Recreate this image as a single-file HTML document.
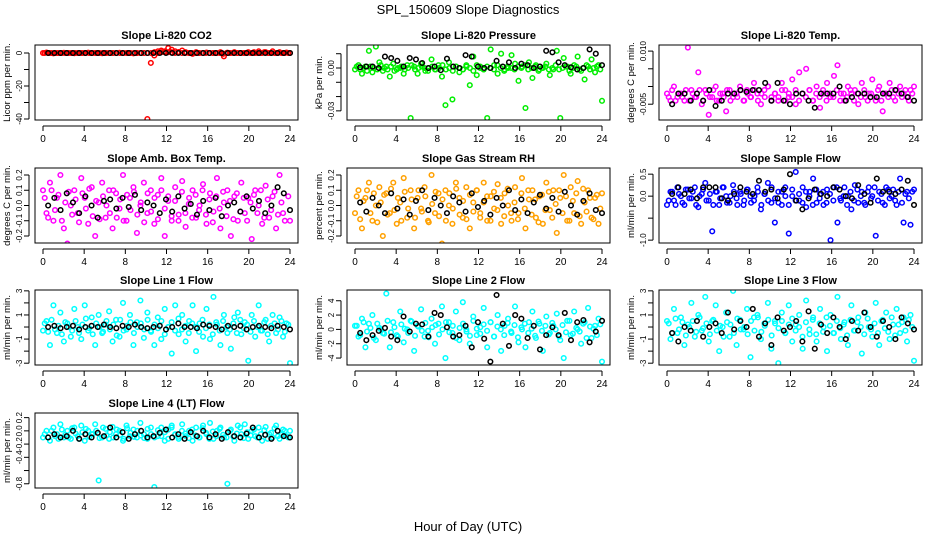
<!DOCTYPE html>
<html><head><meta charset="utf-8">
<style>
html,body{margin:0;padding:0;background:#fff;}
svg{display:block;font-family:"Liberation Sans",sans-serif;}
</style></head>
<body>
<svg id="chart" width="936" height="540" viewBox="0 0 936 540">
<text x="468" y="14" text-anchor="middle" font-size="13">SPL_150609  Slope Diagnostics</text>
<text x="468" y="531" text-anchor="middle" font-size="13">Hour of Day (UTC)</text>
</svg>
<script>
const xTicks=[0,4,8,12,16,20,24];
const titles=["Slope Li-820 CO2","Slope Li-820 Pressure","Slope Li-820 Temp.","Slope Amb. Box Temp.","Slope Gas Stream RH","Slope Sample Flow","Slope Line 1 Flow","Slope Line 2 Flow","Slope Line 3 Flow","Slope Line 4 (LT) Flow"];
const yLabels=["Licor ppm per min.","kPa per min.","degrees C per min.","degrees C per min.","percent per min.","ml/min per min.","ml/min per min.","ml/min per min.","ml/min per min.","ml/min per min."];
const colors=["#ff0000","#00ee00","#ff00ff","#ff00ff","#ffa000","#0000ff","#00ffff","#00ffff","#00ffff","#00ffff"];
const yTop=[4.85,0.0161,0.01172,0.246,0.246,0.64,3.07,5.5,3.07,0.27];
const yBot=[-40.6,-0.0364,-0.00946,-0.246,-0.246,-1.065,-3.15,-4.97,-3.15,-0.864];
const yTickVals=[[0,-10,-20,-30,-40],[0.01,0,-0.01,-0.02,-0.03],[0.01,0.005,0,-0.005],[0.2,0.1,0,-0.1,-0.2],[0.2,0.1,0,-0.1,-0.2],[0.5,0,-0.5,-1.0],[3,2,1,0,-1,-2,-3],[4,2,0,-2,-4],[3,2,1,0,-1,-2,-3],[0.2,0,-0.2,-0.4,-0.6,-0.8]];
const yTickLabels=[["0","","-20","","-40"],["","0.00","","","-0.03"],["0.010","","","-0.005"],["0.2","0.1","0.0","-0.1","-0.2"],["0.2","0.1","0.0","-0.1","-0.2"],["0.5","0.0","","-1.0"],["3","","1","","-1","","-3"],["4","2","0","-2","-4"],["3","","1","","-1","","-3"],["0.2","0.0","-0.2","-0.4","","-0.8"]];

const co2Vals=[0,0.3,0,-0.2,0,0,0.1,0,0,-0.1,0,0,0,0.2,0,0,0,-0.1,0,0,0,0,0.1,0,0,0,-0.2,0,0,0,-40,-6,-1.5,0,1.5,0.5,3,2,1,0.5,1.5,0.5,0,-0.5,0.5,0,0,0.3,0,0,0,0.5,-2,0.2,0,0.5,0,0,0,0.5,0,0,1,0,0.5,0,1,0,0.5,0,0.3,0];
const co2Band=[0,0,0,0,0,0,0,0,0,0,0,0,0,0,0,0,0,0,0,0,0,0,0,0,0,0,0,0,0,0,0,0,0.5,1,0.5,1,0.5,0.5,0,0.5,0,0,0,0,0,0,0,0,0,0,0,0,-0.5,0,0,0,0,0,0,0,0,0.5,0,0,0.5,0,0,0,0,0,0,0];
const co2Black=[0,0,0,0,0,0,0,0,0,0,0,0,0,0,0,0,0,0,0,0,0,0,0,0,0,0,0,0,0,0,0,0,0,0,0,0,0,0,0,0];
const pressVals=[-0.001,0.002,-0.004,0.001,0.012,-0.003,0.015,0.004,-0.002,0.001,-0.006,0.003,-0.001,0.000,-0.004,0.002,-0.035,0.001,-0.004,0.003,0.000,-0.002,0.006,-0.001,0.002,-0.006,-0.026,0.004,-0.022,0.001,-0.003,-0.001,0.002,-0.012,0.008,-0.005,0.001,-0.001,-0.035,0.013,0.002,-0.004,0.010,-0.001,0.000,0.009,0.003,-0.009,0.001,-0.028,0.004,-0.007,0.002,-0.001,0.000,0.003,-0.005,-0.001,0.012,-0.035,0.007,0.001,-0.004,0.002,0.008,-0.002,-0.008,0.001,0.006,-0.003,0.002,-0.023];
const pressBand=[0.001,-0.001,0,-0.002,0.001,0,-0.001,0.002,0,-0.001,0.001,-0.002,0,0.001,-0.001,0,0.002,-0.001,0,0.001,-0.002,0,0.001,-0.001,0,0.002,-0.001,0,-0.002,0.001,0,-0.001,0.001,0,-0.002,0.002,0,-0.001,0.001,0,-0.001,0.002,0,-0.002,0.001,0,-0.001,0.001,0,0.002,-0.001,0,0.001,-0.002,0,0.001,-0.001,0,0.002,-0.001,0,0.001,-0.002,0,0.001,-0.001,0,0.002,-0.001,0,0.001,-0.001];
const pressBlack=[0.0005,0.001,0.001,0.0,0.008,0.007,0.005,0.001,0.007,0.006,0.0035,0.0,0.001,-0.0015,0.0065,0.001,0.0,0.009,0.008,0.001,0.0,0.0,0.005,0.001,0.004,0.0,0.003,0.002,0.0,0.001,0.012,0.011,0.004,0.002,0.0005,-0.001,0.0,0.013,0.010,0.002];
const tempVals=[-0.002,-0.004,0.000,-0.003,-0.002,-0.004,0.011,-0.001,-0.003,0.004,-0.005,-0.001,-0.008,-0.003,0.000,-0.004,-0.002,-0.007,-0.001,-0.003,-0.002,0.000,-0.004,-0.001,-0.003,0.001,-0.002,-0.005,-0.001,0.000,-0.003,-0.002,-0.004,0.001,-0.001,-0.003,0.002,-0.005,0.004,-0.002,0.005,-0.001,-0.004,0.000,-0.006,-0.002,0.001,-0.003,0.003,0.006,-0.002,-0.004,0.000,-0.002,-0.001,-0.005,0.001,-0.003,-0.002,0.002,-0.004,0.000,-0.007,-0.002,0.001,-0.003,-0.001,0.000,-0.002,-0.003,-0.001,0.000];
const tempBand=[-0.003,-0.001,-0.004,-0.002,-0.003,-0.001,-0.004,-0.002,-0.003,-0.001,-0.004,-0.002,-0.003,-0.001,-0.004,-0.002,-0.003,-0.001,-0.004,-0.002,-0.003,-0.001,-0.004,-0.002,-0.003,-0.001,-0.004,-0.002,-0.003,0.000,-0.004,-0.002,-0.003,-0.001,-0.004,-0.002,-0.003,-0.001,-0.004,-0.002,-0.003,-0.001,-0.004,-0.002,-0.003,-0.001,-0.004,-0.002,-0.003,-0.001,-0.004,-0.002,-0.003,-0.001,-0.004,-0.002,-0.003,-0.001,-0.004,-0.002,-0.003,-0.001,-0.004,-0.002,-0.003,-0.001,-0.004,-0.002,-0.003,-0.001,-0.004,-0.002];
const tempBlack=[-0.005,-0.002,-0.002,-0.004,-0.002,-0.004,-0.001,-0.0055,-0.004,-0.002,-0.002,-0.001,-0.0015,-0.001,-0.001,0.001,-0.004,0.001,-0.004,-0.005,-0.002,-0.002,-0.004,-0.006,-0.002,-0.002,-0.002,0.000,-0.004,-0.003,-0.002,-0.002,-0.003,-0.003,-0.002,-0.002,-0.001,-0.002,-0.003,-0.004];
const ambVals=[0.1,-0.05,0.15,-0.1,0.05,0.2,-0.15,-0.25,0.0,0.1,-0.05,0.18,0.05,-0.12,0.12,-0.2,0.02,0.15,-0.08,0.1,-0.15,0.08,-0.02,0.2,-0.1,0.05,0.12,-0.18,0.0,0.15,-0.05,0.1,-0.12,0.07,0.18,-0.2,0.03,-0.1,0.12,-0.06,0.16,-0.14,0.05,0.1,-0.08,0.0,0.14,-0.12,0.08,-0.04,0.18,-0.15,0.02,0.1,-0.2,0.06,-0.1,0.15,-0.05,0.05,-0.22,0.1,0.0,-0.12,0.13,-0.08,0.06,-0.15,0.2,-0.05,0.3,-0.1];
const ambBand=[0.05,-0.08,0.1,-0.03,0.07,-0.1,0.02,0.09,-0.06,0.04,-0.11,0.08,-0.02,0.11,-0.07,0.03,-0.09,0.06,0.0,-0.05,0.1,-0.08,0.04,-0.1,0.07,-0.03,0.09,-0.06,0.02,-0.11,0.08,-0.04,0.05,-0.09,0.1,-0.02,0.06,-0.07,0.03,-0.1,0.09,-0.05,0.01,-0.08,0.07,-0.03,0.1,-0.06,0.04,-0.11,0.06,-0.02,0.09,-0.07,0.03,-0.09,0.08,-0.04,0.05,-0.1,0.02,0.07,-0.05,0.1,-0.08,0.04,-0.03,0.09,-0.06,0.02,-0.1,0.06];
const ambBlack=[0.0,0.05,-0.03,0.08,0.02,-0.05,0.06,0.0,-0.08,0.03,0.04,-0.02,0.05,-0.01,0.07,-0.03,0.02,0.0,-0.05,0.04,-0.04,0.06,-0.02,0.01,-0.06,0.03,-0.03,0.05,-0.07,0.0,0.02,-0.04,0.06,-0.02,0.03,-0.05,0.0,0.12,0.08,-0.03];
const rhVals=[-0.05,0.1,-0.15,0.05,0.15,-0.1,0.0,0.12,-0.2,0.08,-0.05,0.15,-0.12,0.02,0.18,-0.08,0.1,-0.15,0.05,-0.02,0.12,-0.1,0.2,-0.05,0.08,-0.25,0.1,0.0,-0.12,0.15,0.05,-0.08,0.12,-0.15,0.02,0.1,-0.05,0.15,-0.1,0.06,-0.02,0.14,-0.12,0.08,0.0,-0.1,0.12,-0.05,0.18,-0.15,0.04,0.1,-0.08,0.06,-0.12,0.15,-0.03,0.1,-0.18,0.05,0.2,-0.1,0.12,-0.05,0.16,-0.12,0.02,0.1,-0.08,0.05,-0.12,0.08];
const rhBand=[0.06,-0.09,0.03,0.1,-0.05,0.08,-0.11,0.02,0.07,-0.06,0.11,-0.03,0.05,-0.1,0.09,-0.02,0.04,-0.08,0.1,-0.04,0.06,-0.11,0.01,0.09,-0.07,0.04,-0.1,0.08,-0.02,0.11,-0.06,0.03,-0.09,0.07,-0.04,0.1,-0.08,0.02,0.06,-0.1,0.09,-0.03,0.05,-0.07,0.11,-0.05,0.02,-0.09,0.08,-0.02,0.1,-0.06,0.04,-0.11,0.07,-0.03,0.09,-0.08,0.01,0.1,-0.05,0.06,-0.1,0.03,0.08,-0.07,0.11,-0.04,0.05,-0.09,0.07,-0.02];
const rhBlack=[0.02,-0.04,0.05,0.0,-0.05,0.08,-0.02,0.04,-0.06,0.03,0.1,-0.03,0.05,0.0,-0.05,0.06,0.02,-0.04,0.08,-0.01,0.03,-0.06,0.05,0.0,0.1,-0.03,0.04,-0.05,0.02,0.07,-0.02,0.05,-0.04,0.09,0.0,-0.06,0.03,0.08,-0.03,-0.05];
const sampleVals=[-0.2,0.1,-0.1,0.2,0.0,-0.2,0.15,-0.05,0.2,-0.25,0.05,0.3,-0.1,-0.8,0.1,-0.2,0.2,0.0,-0.15,0.25,-0.05,0.1,-0.2,0.15,0.0,-0.1,0.2,-0.3,0.05,0.3,-0.15,-0.6,0.1,-0.2,0.2,-0.85,0.0,0.55,-0.1,0.2,-0.25,0.1,0.4,-0.15,0.05,-0.2,0.15,-1.0,0.2,-0.6,-0.1,0.2,0.0,-0.3,0.25,-0.15,0.1,-0.2,0.2,0.0,-0.9,0.1,-0.15,0.2,-0.05,0.15,-0.2,0.4,-0.6,0.1,-0.65,0.15];
const sampleBand=[-0.1,0.1,-0.2,0.05,-0.15,0.15,-0.05,0.1,-0.2,0.0,0.15,-0.1,0.05,-0.2,0.1,-0.05,0.2,-0.15,0.0,0.1,-0.2,0.05,-0.1,0.15,-0.15,0.0,0.1,-0.2,0.05,-0.1,0.2,-0.05,-0.15,0.1,0.0,-0.2,0.15,-0.1,0.05,-0.15,0.1,0.0,-0.2,0.15,-0.05,0.1,-0.15,0.05,-0.1,0.2,-0.05,0.0,-0.2,0.1,-0.1,0.15,0.0,-0.15,0.1,-0.05,0.2,-0.1,0.05,-0.2,0.15,0.0,-0.1,0.1,-0.15,0.05,-0.05,0.1];
const sampleBlack=[0.05,0.2,0.05,0.15,-0.05,0.2,0.2,0.2,-0.05,-0.1,0.05,0.2,0.1,0.05,0.35,0.1,0.15,-0.05,0.15,0.5,-0.1,-0.3,-0.05,0.15,0.05,0.0,0.2,0.15,0.0,-0.05,0.25,0.05,-0.15,0.4,0.1,0.1,0.05,0.15,0.35,-0.2];
const line1Vals=[-0.3,0.5,-1.5,1.8,-0.5,1.2,-1.2,0.3,-0.8,1.5,0.0,-1.0,1.8,-0.3,0.8,-1.5,1.0,-0.5,0.2,1.3,-1.2,0.6,-0.8,2.0,-0.2,1.0,-1.5,0.4,2.2,-0.9,1.2,-0.3,-1.5,0.8,-1.0,1.5,0.0,-2.2,1.8,-0.6,1.0,-1.2,0.5,1.8,-2.0,0.3,-0.8,1.5,-1.0,2.5,0.2,-1.5,1.0,-0.5,-1.8,0.8,1.2,-0.6,0.4,-2.8,1.0,-0.8,1.8,-0.3,0.6,-1.2,1.0,-0.5,0.8,-0.8,0.3,-3.0];
const line1Band=[0.3,-0.4,0.6,-0.2,0.1,-0.6,0.4,0.0,-0.3,0.5,-0.5,0.2,0.7,-0.1,-0.6,0.3,0.0,-0.4,0.5,-0.2,0.2,-0.7,0.6,-0.3,0.1,0.4,-0.5,0.0,0.3,-0.2,0.6,-0.4,0.2,-0.1,0.5,-0.6,0.0,0.4,-0.3,0.7,-0.2,0.1,-0.5,0.3,0.0,-0.4,0.6,-0.1,0.2,-0.6,0.4,-0.3,0.5,0.0,-0.2,0.3,-0.5,0.6,-0.1,0.2,-0.4,0.5,0.0,-0.3,0.4,-0.6,0.1,0.3,-0.2,0.5,-0.4,0.2];
const line1Black=[0.0,0.1,-0.1,0.0,0.1,-0.2,0.0,0.1,0.0,0.2,0.0,-0.1,0.1,0.0,0.2,0.0,-0.1,0.0,0.1,-0.2,0.0,0.3,0.0,0.0,-0.1,0.2,0.1,0.0,-0.2,0.1,0.0,0.1,-0.2,0.0,0.1,0.0,-0.1,0.1,0.0,-0.2];
const line2Vals=[0.5,-1,1.5,-2.5,0.8,2.0,-1.5,0.2,-0.5,5.0,-2.5,1.0,-0.8,2.5,-1.8,0.0,1.2,-3.0,0.5,2.8,-1.0,-0.2,1.5,-2.0,0.8,3.2,-4.0,1.0,-0.5,2.5,-1.5,3.8,0.0,-2.0,1.8,-0.8,0.3,3.0,-2.5,1.0,-1.0,2.0,-3.0,0.5,1.5,-0.5,3.2,-1.8,0.0,-2.5,1.0,2.5,-1.2,0.8,-3.0,1.8,-0.5,0.5,2.2,-1.5,-4.0,1.2,-0.8,2.5,0.0,-2.0,1.0,3.0,-1.2,0.5,1.5,-4.5];
const line2Band=[0.5,-0.8,1.0,-0.3,0.2,-1.2,0.8,0.0,-0.6,1.2,-0.4,0.3,-1.0,0.7,0.1,-0.5,1.1,-0.9,0.4,-0.2,0.9,-1.1,0.3,0.6,-0.7,0.0,1.0,-0.4,0.5,-1.2,0.2,0.8,-0.3,-0.9,1.2,0.1,-0.6,0.7,-0.2,1.0,-1.0,0.4,0.0,-0.8,0.9,-0.3,0.6,-1.1,0.3,0.8,-0.5,0.1,-0.9,1.1,-0.2,0.5,-0.7,0.9,0.0,-1.0,0.6,-0.4,1.2,-0.6,0.2,-0.3,0.8,-1.2,0.4,0.1,-0.8,0.7];
const line2Black=[-0.5,-1.5,-0.8,-0.2,0.2,-1.0,-1.5,1.8,-0.3,0.8,0.7,-1.0,2.3,2.0,0.3,-1.0,-0.8,0.5,-2.5,1.0,-1.3,-4.5,4.8,0.8,-2.3,2.0,1.5,-1.2,0.5,-2.8,-0.8,0.3,-0.8,2.3,-1.5,1.0,1.3,-1.8,-0.3,1.2];
const line3Vals=[0.5,-1.0,1.5,-0.5,0.8,-1.5,0.2,2.0,-0.8,1.0,-0.3,2.5,-1.2,0.5,1.8,-2.0,0.0,1.2,-0.8,3.0,-1.5,0.6,-0.2,1.5,-2.5,0.8,1.0,-1.0,0.3,2.0,-1.8,0.5,-3.0,1.2,-0.5,1.8,-1.2,0.2,1.0,-1.8,2.2,-0.6,0.8,-1.2,1.5,0.0,-2.0,1.0,-0.5,2.5,-1.0,0.4,-1.5,1.8,-0.3,0.8,-2.2,1.2,0.0,-0.8,2.0,-1.5,0.6,1.2,-1.0,0.2,1.5,-0.5,0.8,-1.2,1.0,-2.8];
const line3Band=[0.3,-0.5,0.7,-0.2,0.4,-0.7,0.0,0.5,-0.4,0.8,-0.1,0.3,-0.6,0.6,-0.3,0.1,-0.8,0.4,0.2,-0.5,0.7,-0.2,0.0,-0.6,0.5,-0.3,0.8,-0.4,0.1,0.6,-0.7,0.3,-0.1,0.5,-0.5,0.2,0.7,-0.3,0.0,-0.8,0.4,-0.2,0.6,-0.6,0.3,-0.4,0.8,0.1,-0.5,0.5,-0.1,0.2,-0.7,0.6,-0.3,0.4,0.0,-0.6,0.7,-0.2,0.3,-0.5,0.5,-0.1,-0.4,0.8,-0.7,0.2,0.4,-0.3,0.6,0.0];
const line3Black=[-0.5,-1.2,0.0,-0.3,0.5,-0.8,0.0,0.3,-0.5,1.2,-0.2,0.5,0.0,1.5,-0.8,0.3,-1.5,0.8,-0.3,0.0,0.5,-1.2,1.3,-1.8,0.2,-0.5,0.8,0.0,-1.0,0.5,-0.3,1.2,0.0,-0.8,0.5,0.0,-1.0,0.8,0.3,-0.2];
const line4Vals=[-0.1,0.0,-0.15,0.05,-0.05,0.1,-0.1,0.0,-0.12,0.05,-0.08,0.08,-0.15,0.0,-0.05,0.1,-0.75,-0.1,0.03,-0.12,0.06,-0.05,0.0,-0.15,0.08,-0.08,0.02,-0.1,0.12,-0.05,-0.12,0.05,-0.85,-0.08,0.05,-0.15,0.02,0.08,-0.05,-0.12,0.1,-0.08,0.0,-0.15,0.05,-0.1,0.08,-0.05,0.12,-0.12,0.0,0.05,-0.1,-0.8,0.02,-0.15,0.08,-0.05,0.1,-0.12,0.0,-0.08,0.05,-0.15,0.06,-0.05,-0.1,0.08,-0.12,0.02,-0.08,0.0];
const line4Band=[-0.05,-0.1,0.0,-0.08,-0.12,0.02,-0.06,-0.1,0.04,-0.04,-0.12,-0.02,0.03,-0.09,-0.05,0.0,-0.11,0.05,-0.07,-0.02,-0.1,0.02,-0.06,-0.12,0.04,-0.03,-0.09,0.0,-0.07,-0.11,0.03,-0.05,-0.1,0.01,-0.08,-0.02,-0.12,0.05,-0.06,-0.09,0.0,-0.04,-0.11,0.02,-0.07,-0.1,0.04,-0.03,-0.12,-0.01,-0.08,0.03,-0.06,-0.1,0.0,-0.09,-0.04,0.05,-0.11,-0.02,-0.07,0.02,-0.1,-0.05,0.01,-0.12,-0.03,0.04,-0.08,-0.06,0.0,-0.1];
const line4Black=[-0.1,-0.05,-0.1,-0.08,0.0,-0.12,-0.05,-0.1,-0.03,-0.08,0.05,-0.1,-0.02,-0.12,-0.05,0.0,-0.1,-0.08,-0.03,0.02,-0.1,-0.05,-0.12,-0.02,-0.08,0.0,-0.1,-0.05,-0.12,-0.02,-0.08,-0.1,-0.04,0.05,-0.1,-0.06,-0.12,0.0,-0.08,-0.1];

const colorSeries=[co2Vals,pressVals,tempVals,ambVals,rhVals,sampleVals,line1Vals,line2Vals,line3Vals,line4Vals];
const bandSeries=[co2Band,pressBand,tempBand,ambBand,rhBand,sampleBand,line1Band,line2Band,line3Band,line4Band];
const blackSeries=[co2Black,pressBlack,tempBlack,ambBlack,rhBlack,sampleBlack,line1Black,line2Black,line3Black,line4Black];

const NS="http://www.w3.org/2000/svg";
const svg=document.getElementById('chart');
function mk(tag,attrs,parent){const e=document.createElementNS(NS,tag);for(const k in attrs)e.setAttribute(k,attrs[k]);(parent||svg).appendChild(e);return e;}
const colLeft=[35,347,659],rowTop=[45,168,290,413],BW=263,BH=75;

for(let p=0;p<10;p++){
  const c=p%3,r=Math.floor(p/3);
  const L=colLeft[c],T=rowTop[r],B=T+BH;
  const g=mk('g',{});
  
  
  const xs=h=>L+8+h*(247/24);
  const ys=v=>T+(yTop[p]-v)/(yTop[p]-yBot[p])*BH;
  const t=mk('text',{x:L+BW/2,y:T-6,'text-anchor':'middle','font-size':'11','font-weight':'bold'},g);
  t.textContent=titles[p];
  
  
  const yl=mk('text',{x:0,y:0,'text-anchor':'middle','font-size':'9.5',transform:`translate(${L-25},${T+BH/2}) rotate(-90)`},g);
  yl.textContent=yLabels[p];
  
  
  mk('line',{x1:xs(0),x2:xs(24),y1:B+6,y2:B+6,stroke:'#000','stroke-width':1},g);
  xTicks.forEach(h=>{
    mk('line',{x1:xs(h),x2:xs(h),y1:B+6,y2:B+11,stroke:'#000','stroke-width':1},g);
    const tl=mk('text',{x:xs(h),y:B+22,'text-anchor':'middle','font-size':'10'},g);
    tl.textContent=h;
    
    
  });
  const yv=yTickVals[p];
  mk('line',{x1:L-6,x2:L-6,y1:ys(yv[0]),y2:ys(yv[yv.length-1]),stroke:'#000','stroke-width':1},g);
  yv.forEach((v,i)=>{
    mk('line',{x1:L-11,x2:L-6,y1:ys(v),y2:ys(v),stroke:'#000','stroke-width':1},g);
    if(yTickLabels[p][i]){
      const tl=mk('text',{x:0,y:0,'text-anchor':'middle','font-size':'8',transform:`translate(${L-13},${ys(v)}) rotate(-90)`},g);
      tl.textContent=yTickLabels[p][i];
      
      
    }
  });
  const clip=mk('clipPath',{id:'clip'+p},g);
  mk('rect',{x:L,y:T,width:BW,height:BH},clip);
  const pts=mk('g',{'clip-path':`url(#clip${p})`},g);
  const bd=bandSeries[p];
  bd.forEach((v,i)=>{
    const ci=mk('circle',{cx:xs((i+0.5)*24/bd.length),cy:ys(v),r:2.3,fill:'none',stroke:colors[p],'stroke-width':1.5},pts);
    
    
  });
  const cs=colorSeries[p];
  cs.forEach((v,i)=>{
    const ci=mk('circle',{cx:xs(i*24/(cs.length-1)),cy:ys(v),r:2.3,fill:'none',stroke:colors[p],'stroke-width':1.5},pts);
    
    
  });
  const bs=blackSeries[p];
  bs.forEach((v,i)=>{
    const ci=mk('circle',{cx:xs(0.5+i*23.5/(bs.length-1)),cy:ys(v),r:2.3,fill:'none',stroke:'#000','stroke-width':1.5},pts);
    
    
  });
  const box=mk('rect',{x:L,y:T,width:BW,height:BH,fill:'none',stroke:'#000','stroke-width':1},g);
  
  
}
</script>
</body></html>
